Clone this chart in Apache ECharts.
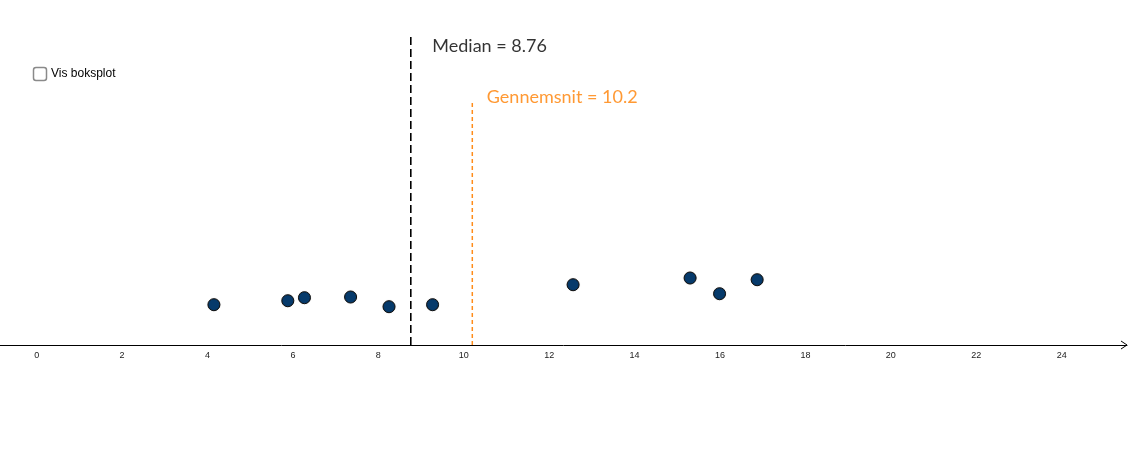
<!DOCTYPE html>
<html>
<head>
<meta charset="utf-8">
<script src="https://cdn.jsdelivr.net/npm/echarts@6/dist/echarts.min.js"></script>
<style>html,body{margin:0;padding:0;background:#fff}#c{width:1129px;height:454px}</style>
</head>
<body>
<div id="c"></div>
<script>
// Data values (x) and vertical jitter (y)
const xValues = [4.15, 5.88, 6.27, 7.35, 8.25, 9.27, 12.56, 15.30, 15.99, 16.87];
const yValues = [0.944, 1.037, 1.108, 1.124, 0.897, 0.944, 1.412, 1.569, 1.201, 1.529];
const tickLabels = [0, 2, 4, 6, 8, 10, 12, 14, 16, 18, 20, 22, 24];
const medianValue = 8.76;
const meanValue = 10.2;
const medianLineTop = 7.24;
const meanLineTop = 5.74;
const medianText = 'Median = 8.76';
const meanText = 'Gennemsnit = 10.2';
const checkboxText = 'Vis boksplot';

const points = xValues.map((x, i) => [x, yValues[i]]);
const labelFont = 'Lato, "Noto Sans", sans-serif';

const chart = echarts.init(document.getElementById('c'), null, {renderer: 'canvas'});
chart.setOption({
  animation: false,
  grid: {left: 0, right: 2, top: 0, bottom: 109, containLabel: false},
  xAxis: {
    type: 'value', min: -0.859, max: 25.53,
    splitLine: {show: false},
    axisLine: {show: true, onZero: false, lineStyle: {color: '#000', width: 1}},
    axisTick: {show: false},
    axisLabel: {
      customValues: tickLabels,
      fontSize: 9, color: '#222', margin: 6,
      fontFamily: 'Liberation Sans, Arial, sans-serif'
    }
  },
  yAxis: {type: 'value', min: 0, max: 8.08, show: false},
  graphic: [
    {type: 'polyline', shape: {points: [[1121, 341], [1127, 345], [1121, 349]]},
     style: {stroke: '#000', lineWidth: 1, fill: null}},
    {type: 'rect', shape: {x: 33.5, y: 67.5, width: 13, height: 13, r: 2.5},
     style: {stroke: '#8a8a8a', lineWidth: 1.5, fill: '#fff'}},
    {type: 'text', x: 51, y: 74, style: {text: checkboxText, font: '12px "Liberation Sans", Arial, sans-serif', fill: '#000', textVerticalAlign: 'middle'}}
  ],
  series: [
    {
      type: 'line', data: [[medianValue, 0], [medianValue, medianLineTop]],
      symbol: 'none', lineStyle: {color: '#000', width: 1.6, type: [8, 4]}, z: 2, silent: true
    },
    {
      type: 'line', data: [[meanValue, 0], [meanValue, meanLineTop]],
      symbol: 'none', lineStyle: {color: '#ff8c1a', width: 1.5, type: [4, 3]}, z: 2, silent: true
    },
    {
      type: 'scatter', symbolSize: 1, itemStyle: {color: 'rgba(0,0,0,0)'}, silent: true, z: 4,
      data: [
        {value: [medianValue, medianLineTop], label: {show: true, formatter: medianText, position: 'right', distance: 0,
          offset: [21, 10], fontSize: 18, color: '#000', fontFamily: labelFont}},
        {value: [meanValue, meanLineTop], label: {show: true, formatter: meanText, position: 'right', distance: 0,
          offset: [14, -3], fontSize: 18, color: '#ff7f00', fontFamily: labelFont}}
      ]
    },
    {
      type: 'scatter', data: points, symbolSize: 12, z: 3,
      itemStyle: {color: '#063a6b', opacity: 1, borderColor: '#111', borderWidth: 1, shadowColor: 'rgba(0,0,0,0.25)', shadowBlur: 1}
    }
  ]
});
</script>
</body>
</html>
